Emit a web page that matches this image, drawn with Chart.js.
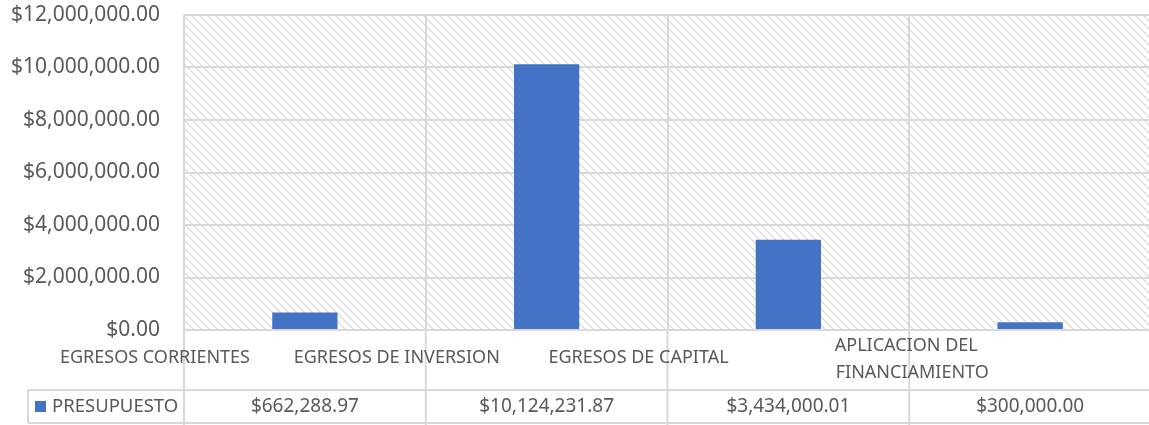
<!DOCTYPE html>
<html>
<head>
<meta charset="utf-8">
<script src="https://cdn.jsdelivr.net/npm/chart.js@4/dist/chart.umd.min.js"></script>
<style>
  html, body { margin: 0; padding: 0; background: #fff; overflow: hidden; }
  #wrap { width: 1149px; height: 425px; overflow: hidden; }
</style>
</head>
<body>
<div id="wrap"><canvas id="chart" width="1153" height="425"></canvas></div>
<script>
// Datos del presupuesto
const categorias = ['EGRESOS CORRIENTES', 'EGRESOS DE INVERSION', 'EGRESOS DE CAPITAL', ['APLICACION DEL', 'FINANCIAMIENTO']];
const presupuesto = [662288.97, 10124231.87, 3434000.01, 300000.00];
const serieNombre = 'PRESUPUESTO';
const ejeMin = 0;
const ejeMax = 12000000;
const ejePaso = 2000000;

const TEXT = '#595959';
const LINE = '#d9d9d9';
const BAR = '#4472C4';
const FONT = '"Noto Sans", sans-serif';

const money = v => '$' + Number(v).toLocaleString('en-US', { minimumFractionDigits: 2, maximumFractionDigits: 2 });

// patron de rayas diagonales del area de trazado
function makeHatch() {
    const c = document.createElement('canvas');
    c.width = 8; c.height = 8;
    const g = c.getContext('2d');
    g.strokeStyle = '#dedede';
    g.lineWidth = 1.4;
    g.beginPath();
    g.moveTo(-2, -2); g.lineTo(10, 10);
    g.moveTo(-2, 6); g.lineTo(2, 10);
    g.moveTo(6, -2); g.lineTo(10, 2);
    g.stroke();
    return g.createPattern(c, 'repeat');
}

const hatchPlugin = {
    id: 'hatch',
    beforeDraw(chart) {
        const { ctx, chartArea: a } = chart;
        ctx.save();
        ctx.fillStyle = makeHatch();
        ctx.fillRect(a.left, a.top, a.right - a.left, a.bottom - a.top);
        ctx.restore();
    }
};

// tabla de datos debajo del eje
const tablePlugin = {
    id: 'dataTable',
    afterDraw(chart) {
        const { ctx, chartArea: a } = chart;
        const x = chart.scales.x;
        const n = categorias.length;
        const cw = (a.right - a.left) / n;
        const rowTop = 390, rowBottom = 423, bottom = 425;

        ctx.save();
        ctx.strokeStyle = LINE;
        ctx.lineWidth = 2;
        ctx.beginPath();
        for (let i = 0; i <= n; i++) {
            const bx = a.left + i * cw;
            ctx.moveTo(bx, a.bottom); ctx.lineTo(bx, bottom);
        }
        ctx.moveTo(28, rowTop); ctx.lineTo(a.right, rowTop);
        ctx.moveTo(28, rowBottom); ctx.lineTo(a.right, rowBottom);
        ctx.moveTo(28, rowTop); ctx.lineTo(28, rowBottom);
        ctx.stroke();

        ctx.fillStyle = TEXT;
        ctx.font = '18px ' + FONT;
        ctx.textAlign = 'center';
        ctx.textBaseline = 'middle';
        categorias.forEach((c, i) => {
            const left = a.left + i * cw;
            if (Array.isArray(c)) {
                c.forEach((line, j) => ctx.fillText(line, left - 3 + j * 6, 346 + j * 27));
            } else {
                ctx.fillText(c, left - cw * 0.12, 358);
            }
        });
        ctx.font = '19px ' + FONT;
        categorias.forEach((c, i) => {
            ctx.fillText(money(presupuesto[i]), x.getPixelForValue(i), 407);
        });

        ctx.fillStyle = BAR;
        ctx.fillRect(35, 401, 11, 11);
        ctx.fillStyle = TEXT;
        ctx.textAlign = 'left';
        ctx.font = '18.5px ' + FONT;
        ctx.fillText(serieNombre, 52, 407);
        ctx.restore();
    }
};

new Chart(document.getElementById('chart'), {
    type: 'bar',
    data: {
        labels: categorias,
        datasets: [{
            label: serieNombre,
            data: presupuesto,
            backgroundColor: BAR,
            categoryPercentage: 1,
            barPercentage: 0.27
        }]
    },
    options: {
        responsive: false,
        animation: false,
        layout: { padding: { top: 15, right: 2, bottom: 95, left: 0 } },
        plugins: { legend: { display: false }, tooltip: { enabled: false } },
        scales: {
            x: {
                ticks: { display: false },
                grid: { color: LINE, lineWidth: 2, drawTicks: false },
                border: { display: false }
            },
            y: {
                min: ejeMin,
                max: ejeMax,
                afterFit: s => { s.width = 184; },
                ticks: {
                    stepSize: ejePaso,
                    padding: 0,
                    color: TEXT,
                    font: { family: FONT, size: 21 },
                    callback: v => money(v)
                },
                grid: { color: LINE, lineWidth: 2, drawTicks: true, tickLength: 24, tickColor: 'rgba(0,0,0,0)' },
                border: { display: false }
            }
        }
    },
    plugins: [hatchPlugin, tablePlugin]
});
</script>
</body>
</html>
